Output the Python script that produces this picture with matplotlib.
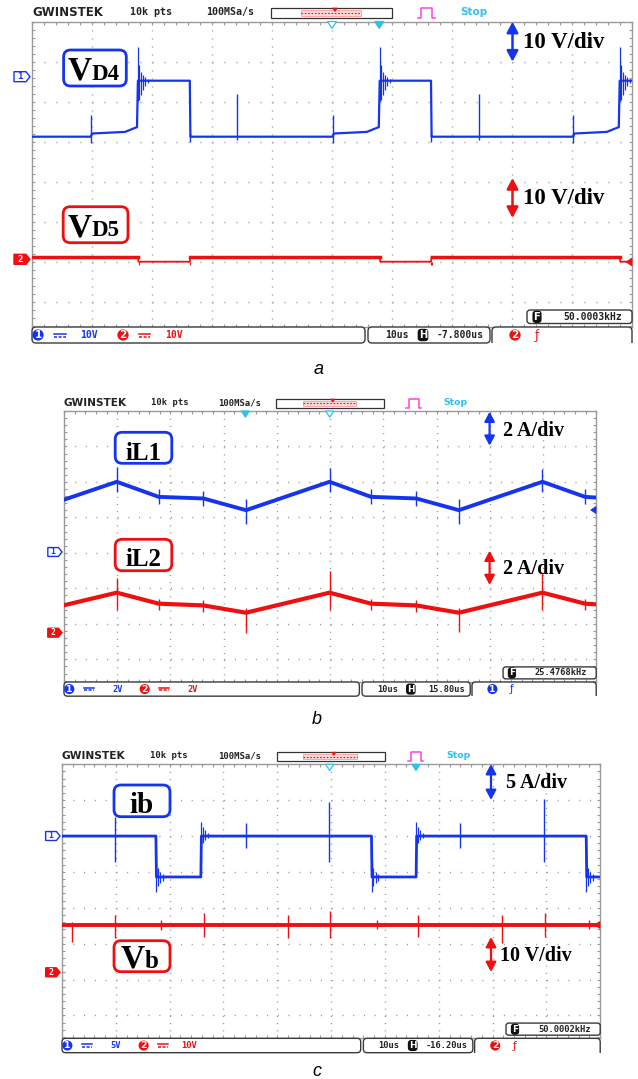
import matplotlib.pyplot as plt
from matplotlib.patches import FancyBboxPatch, Rectangle, FancyArrowPatch, Polygon
from matplotlib.lines import Line2D
from matplotlib.transforms import IdentityTransform

W, H = 638, 1079
PIX = IdentityTransform()

BLUE = "#1434f0"
RED = "#ee1010"
CYAN = "#30c0f0"
PINK = "#ff40e0"
GRAY = "#9a9a9a"
DARK = "#3a3a3a"
SERIF = "Liberation Serif"
MONO = "DejaVu Sans Mono"

# ---------- panel a : diode voltages (us, V) ----------
vd4_t = [0.0, 9.8, 10.0, 15.5, 17.5, 17.65, 26.3, 26.4, 50.1, 50.3, 55.8, 57.8, 57.95,
         66.5, 66.6, 90.2, 90.4, 95.8, 97.8, 97.95, 100.0]
vd4_v = [-15.0, -15.0, -14.2, -13.8, -12.6, -1.0, -1.0, -15.0, -15.0, -14.2, -13.8, -12.6, -1.0,
         -1.0, -15.0, -15.0, -14.2, -13.8, -12.6, -1.0, -1.0]
vd4_spk_t = [9.85, 34.2, 50.1, 74.5, 90.2]
vd4_spk_hi = [-9.6, -4.4, -9.6, -4.4, -9.6]
vd4_spk_lo = [-16.6, -15.8, -16.6, -15.8, -16.6]
vd4_rise = [17.65, 57.95, 97.95]
vd4_ring_dt = [0.0, 0.25, 0.5, 0.8, 1.2, 1.7]
vd4_ring_hi = [7.5, 3.0, 1.2, 0.5, 0.0, -0.5]
vd4_ring_lo = [-6.0, -5.8, -4.5, -3.2, -2.2, -1.6]
vd4_fall = [26.35, 66.55]
vd4_fall_lo = -16.3

vd5_t = [0.0, 17.65, 17.75, 26.3, 26.4, 57.95, 58.05, 66.5, 66.6, 97.95, 98.05, 100.0]
vd5_v = [0.6, 0.6, -0.6, -0.6, 0.6, 0.6, -0.6, -0.6, 0.6, 0.6, -0.6, -0.6]

# ---------- panel b : inductor currents (us, A) ----------
il_t = [0.0, 9.92, 17.8, 26.2, 34.2, 49.9, 57.7, 66.2, 74.2, 89.9, 97.9, 100.0]
il1_v = [2.96, 3.97, 3.12, 3.03, 2.37, 3.97, 3.12, 3.03, 2.37, 3.97, 3.12, 3.08]
il2_v = [1.57, 2.28, 1.66, 1.56, 1.15, 2.28, 1.66, 1.56, 1.15, 2.28, 1.66, 1.62]
il_spk_t = [9.92, 17.8, 26.2, 34.2, 49.9, 57.7, 66.2, 74.2, 89.9, 97.9]
il1_spk_hi = [4.8, 3.55, 3.45, 3.0, 4.75, 3.55, 3.45, 3.0, 4.7, 3.55]
il1_spk_lo = [3.4, 2.7, 2.6, 1.6, 3.4, 2.7, 2.6, 1.6, 3.4, 2.7]
il2_spk_hi = [3.1, 1.95, 1.85, 1.4, 3.5, 1.95, 1.85, 1.4, 3.4, 1.95]
il2_spk_lo = [1.3, 1.3, 1.2, 0.0, 1.3, 1.3, 1.2, 0.05, 1.3, 1.3]

# ---------- panel c : battery current / voltage ----------
ib_t = [0.0, 17.45, 17.55, 25.8, 25.9, 57.5, 57.6, 65.8, 65.9, 97.4, 97.5, 100.0]
ib_v = [0.0, 0.0, -5.7, -5.7, 0.0, 0.0, -5.7, -5.7, 0.0, 0.0, -5.7, -5.7]
ib_spk_t = [9.9, 34.1, 49.6, 74.0, 89.6]
ib_spk_hi = [2.7, 1.8, 4.8, 1.8, 5.1]
ib_spk_lo = [-3.6, -1.7, -3.6, -1.7, -3.6]
ib_fall = [17.5, 57.55, 97.45]
ib_fall_dt = [0.0, 0.3, 0.7, 1.2]
ib_fall_hi = [-3.6, -4.4, -5.0, -5.3]
ib_fall_lo = [-7.8, -7.0, -6.5, -6.2]
ib_rise = [25.85, 65.85]
ib_rise_dt = [0.0, 0.3, 0.7, 1.2]
ib_rise_hi = [2.0, 1.2, 0.8, 0.4]
ib_rise_lo = [-1.2, -0.9, -0.6, -0.3]

vb_t = [0.0, 100.0]
vb_v = [13.2, 13.2]
vb_spk_t = [1.9, 9.85, 18.4, 26.3, 42.0, 49.8, 58.5, 66.2, 81.7, 89.7, 98.0]
vb_spk_hi = [13.9, 16.0, 14.6, 16.4, 16.0, 16.9, 14.5, 16.0, 16.0, 16.4, 14.5]
vb_spk_lo = [8.5, 9.5, 11.8, 9.9, 9.5, 9.5, 12.0, 9.9, 8.1, 9.9, 11.9]

fig = plt.figure(figsize=(W / 100, H / 100), dpi=100)
fig.patch.set_facecolor("white")


def P(x, y):
    return x, H - y


def txt(x, y, s, **kw):
    kw.setdefault("ha", "left")
    kw.setdefault("va", "center")
    kw.setdefault("zorder", 8)
    return fig.text(x, H - y, s, transform=PIX, **kw)


def rbox(x0, y0, x1, y1, r=4, **kw):
    p = FancyBboxPatch((x0, H - y1), x1 - x0, y1 - y0,
                       boxstyle=f"round,pad=0,rounding_size={r}", transform=PIX, **kw)
    fig.add_artist(p)


def poly(pts, **kw):
    fig.add_artist(Polygon([P(*p) for p in pts], closed=True, transform=PIX, **kw))


def screen(x0, top, s):
    w = 600 * s
    hgt = 305.5 * s
    ax = fig.add_axes([x0 / W, 1 - (top + hgt) / H, w / W, hgt / H])
    ax.set_facecolor("white")
    ax.set_xlim(0, 100)
    ax.set_ylim(4 - 305.5 / 40, 4)
    ax.set_xticks(range(0, 101, 10))
    ax.set_xticks([i * 2 for i in range(51)], minor=True)
    ax.set_yticks(range(-3, 5))
    ax.set_yticks([j * 0.2 for j in range(-18, 21)], minor=True)
    ax.tick_params(which="both", direction="in", length=2.5 * s, width=0.8, color=GRAY,
                   top=True, right=True, labelbottom=False, labelleft=False)
    ax.xaxis.grid(True, color=GRAY, lw=1, ls=(0, (0.8, 5.76 * s - 0.8)))
    ax.yaxis.grid(True, color=GRAY, lw=1, ls=(0, (0.8, 8.64 * s - 0.8)))
    for sp in ax.spines.values():
        sp.set_color(GRAY)
        sp.set_linewidth(1)
    return ax


def trace(ax, t, v, scale, pos, color, lw):
    ax.plot(t, [pos + x / scale for x in v], color=color, lw=lw, zorder=3)


def spikes(ax, t, hi, lo, scale, pos, color, lw=1.0):
    ax.vlines(t, [pos + x / scale for x in lo], [pos + x / scale for x in hi],
              color=color, lw=lw, zorder=3)


def ringing(ax, edges, dt, hi, lo, scale, pos, color):
    for e in edges:
        spikes(ax, [e + d for d in dt], hi, lo, scale, pos, color, lw=0.9)


def header(x0, top, s):
    X = lambda o: x0 + o * s
    Y = lambda o: top + o * s
    y = Y(-9.5)
    txt(X(0), y, "GWINSTEK", fontsize=8.5 * s, fontweight="bold", color="#222222")
    txt(X(98.4), y, "10k pts", fontsize=7.2 * s, family=MONO, fontweight="bold", color="#222222")
    txt(X(174), y, "100MSa/s", fontsize=7.2 * s, family=MONO, fontweight="bold", color="#222222")
    fig.add_artist(Rectangle(P(X(239.4), Y(-3.2)), 121 * s, 10 * s, transform=PIX,
                             fc="white", ec="#333333", lw=0.9, zorder=6))
    fig.add_artist(Rectangle(P(X(269), Y(-5.5)), 60 * s, 6 * s, transform=PIX,
                             fc="#ffdada", ec="#ff9a9a", lw=0.6, zorder=7))
    fig.add_artist(Line2D([X(269), X(329)], [H - Y(-8.5)] * 2, transform=PIX, color=RED,
                          lw=0.8, ls=(0, (1.5, 1.5)), zorder=7))
    poly([(X(300.5), Y(-13.5)), (X(305.5), Y(-13.5)), (X(303), Y(-10))], fc=RED, ec=RED, lw=0.5, zorder=7)
    fig.add_artist(Line2D([X(386), X(389), X(389), X(400), X(400), X(403)],
                          [H - Y(o) for o in (-3.5, -3.5, -14, -14, -3.5, -3.5)],
                          transform=PIX, color=PINK, lw=1.1, zorder=7))
    txt(X(428), y, "Stop", color=CYAN, fontsize=7.5 * s, fontweight="bold")


def circ(x, y, label, color, s):
    txt(x, y, label, color="white", ha="center", fontsize=7.5 * s, fontweight="bold",
        bbox=dict(boxstyle="circle,pad=0.06", fc=color, ec="none"))


def icon(x, y, label, s):
    txt(x, y, label, color="white", ha="center", fontsize=7.2 * s, fontweight="bold",
        bbox=dict(boxstyle="round,pad=0.12,rounding_size=0.35", fc="#111111", ec="none"))


def dc(xa, xb, y, color, s):
    fig.add_artist(Line2D([xa, xb], [H - y + 1.5 * s] * 2, transform=PIX, color=color, lw=1.1, zorder=8))
    fig.add_artist(Line2D([xa, xb], [H - y - 1.5 * s] * 2, transform=PIX, color=color, lw=1.1,
                          ls=(0, (2, 1)), zorder=8))


def status(x0, top, s, ch1, ch2, tdiv, hpos, trig, trig_col, freq):
    X = lambda o: x0 + o * s
    Y = lambda o: top + o * s
    rbox(X(0), Y(305.5), X(333), Y(321.5), r=4 * s, fc="white", ec=DARK, lw=1, zorder=5)
    rbox(X(336), Y(305.5), X(458), Y(321.5), r=4 * s, fc="white", ec=DARK, lw=1, zorder=5)
    rbox(X(460), Y(305.5), X(600), Y(332), r=4 * s, fc="white", ec=DARK, lw=1, zorder=5)
    fig.add_artist(Rectangle(P(X(457), Y(338)), 146 * s, 16.2 * s, transform=PIX,
                             fc="white", ec="none", zorder=6))
    yc = Y(313.5)
    fs = 7 * s
    mono = dict(family=MONO, fontsize=fs, fontweight="bold")
    circ(X(6), yc, "1", BLUE, s)
    dc(X(22), X(34), yc, BLUE, s)
    txt(X(66), yc, ch1, ha="right", color=BLUE, **mono)
    circ(X(91), yc, "2", RED, s)
    dc(X(107), X(118), yc, RED, s)
    txt(X(151), yc, ch2, ha="right", color=RED, **mono)
    txt(X(353), yc, tdiv, color="#222222", **mono)
    icon(X(391), yc, "H", s)
    txt(X(452), yc, hpos, ha="right", color="#222222", **mono)
    circ(X(483), yc, trig, trig_col, s)
    txt(X(505), yc, "ƒ", color=trig_col, ha="center", fontsize=fs * 1.2)
    rbox(X(495), Y(288.5), X(600), Y(302), r=3 * s, fc="white", ec=DARK, lw=1, zorder=5)
    icon(X(505), Y(295.3), "F", s)
    txt(X(590), Y(295.3), freq, ha="right", color="#222222", **mono)


def pent(xr, y, s, color, label, filled):
    w, h = 16 * s, 10 * s
    poly([(xr - w, y - h / 2), (xr - 4 * s, y - h / 2), (xr, y), (xr - 4 * s, y + h / 2), (xr - w, y + h / 2)],
         fc=color if filled else "white", ec=color, lw=1, zorder=7)
    txt(xr - w / 2 - 2 * s, y, label, color="white" if filled else color, ha="center",
        fontsize=6.5 * s, fontweight="bold", family=MONO)


def tri_down(x, ytop, s, filled):
    poly([(x - 4.5 * s, ytop), (x + 4.5 * s, ytop), (x, ytop + 7 * s)],
         fc=CYAN if filled else "white", ec=CYAN, lw=0.9, zorder=7)


def tri_left(xr, y, s, color):
    poly([(xr, y - 4 * s), (xr, y + 4 * s), (xr - 6 * s, y)], fc=color, ec=color, lw=0.5, zorder=7)


def arrow(x, y0, y1, color, s):
    fig.add_artist(FancyArrowPatch(P(x, y0), P(x, y1), transform=PIX,
                                   arrowstyle="<|-|>,head_length=0.32,head_width=0.17",
                                   mutation_scale=20 * s, lw=1.8 * s, color=color,
                                   shrinkA=0, shrinkB=0, zorder=6))


def label_box(x0, y0, x1, y1, color):
    rbox(x0, y0, x1, y1, r=7, fc="white", ec=color, lw=2, zorder=5)


# ================= panel a =================
s = 1.0
ax = screen(32, 21.5, s)
header(32, 21.5, s)
status(32, 21.5, s, "10V", "10V", "10us", "-7.800us", "2", RED, "50.0003kHz")
# VD5: thin line through the dips, thick where the diode sits near 0 V
trace(ax, vd5_t, vd5_v, 10, -1.945, RED, 1.3)
trace(ax, vd5_t, [v if v > 0 else float("nan") for v in vd5_v], 10, -1.945, RED, 2.5)
spikes(ax, vd5_t[2:4] + vd5_t[7:9], [-0.6] * 4, [-1.3] * 4, 10, -1.945, RED, lw=0.8)
trace(ax, vd4_t, vd4_v, 10, 2.62, BLUE, 1.6)
spikes(ax, vd4_spk_t, vd4_spk_hi, vd4_spk_lo, 10, 2.62, BLUE)
ringing(ax, vd4_rise, vd4_ring_dt, vd4_ring_hi, vd4_ring_lo, 10, 2.62, BLUE)
spikes(ax, vd4_fall, [-14.0] * len(vd4_fall), [vd4_fall_lo] * len(vd4_fall), 10, 2.62, BLUE)
pent(30, 76.7, s, BLUE, "1", False)
pent(30, 259.3, s, RED, "2", True)
tri_down(332, 21.5, s, False)
tri_down(379.3, 21.5, s, True)
tri_left(632, 262, s, RED)
label_box(63.6, 50, 126.3, 86, BLUE)
txt(67.5, 80, "V", va="baseline", family=SERIF, fontweight="bold", fontsize=24)
txt(91.5, 80, "D4", va="baseline", family=SERIF, fontweight="bold", fontsize=16.5)
label_box(63.2, 206.7, 128, 242.7, RED)
txt(67.5, 236.5, "V", va="baseline", family=SERIF, fontweight="bold", fontsize=24)
txt(91.5, 236.5, "D5", va="baseline", family=SERIF, fontweight="bold", fontsize=16.5)
arrow(512.5, 21.7, 61.7, BLUE, s)
txt(523, 42.7, "10 V/div", family=SERIF, fontweight="bold", fontsize=16.5)
arrow(512.5, 178, 218, RED, s)
txt(523, 199, "10 V/div", family=SERIF, fontweight="bold", fontsize=16.5)
txt(319, 374, "a", ha="center", va="baseline", family="Liberation Sans", style="italic", fontsize=13)

# ================= panel b =================
s = 0.887
ax = screen(64, 411, s)
header(64, 411, s)
status(64, 411, s, "2V", "2V", "10us", "15.80us", "1", BLUE, "25.4768kHz")
trace(ax, il_t, il1_v, 2, 0.02, BLUE, 2.8)
spikes(ax, il_spk_t, il1_spk_hi, il1_spk_lo, 2, 0.02, BLUE)
trace(ax, il_t, il2_v, 2, -2.26, RED, 3.0)
spikes(ax, il_spk_t, il2_spk_hi, il2_spk_lo, 2, -2.26, RED)
pent(62, 552, s, BLUE, "1", False)
pent(62, 632.7, s, RED, "2", True)
tri_down(245.4, 411, s, True)
tri_down(329.7, 411, s, False)
tri_left(596, 510, s, BLUE)
label_box(115.2, 432.3, 171.8, 463.3, BLUE)
txt(143.5, 459.5, "iL1", ha="center", va="baseline", family=SERIF, fontweight="bold", fontsize=18)
label_box(115.2, 539.3, 171.8, 570.7, RED)
txt(143.5, 566.5, "iL2", ha="center", va="baseline", family=SERIF, fontweight="bold", fontsize=18)
arrow(489.6, 411.7, 445.7, BLUE, s)
txt(503, 431, "2 A/div", family=SERIF, fontweight="bold", fontsize=14.5)
arrow(489.6, 550.7, 585, RED, s)
txt(503, 569, "2 A/div", family=SERIF, fontweight="bold", fontsize=14.5)
txt(317, 724, "b", ha="center", va="baseline", family="Liberation Sans", style="italic", fontsize=13)

# ================= panel c =================
s = 0.897
ax = screen(62, 764.3, s)
header(62, 764.3, s)
status(62, 764.3, s, "5V", "10V", "10us", "-16.20us", "2", RED, "50.0002kHz")
trace(ax, vb_t, vb_v, 10, -1.79, RED, 2.8)
spikes(ax, vb_spk_t, vb_spk_hi, vb_spk_lo, 10, -1.79, RED)
trace(ax, ib_t, ib_v, 5, 2.0, BLUE, 2.0)
spikes(ax, ib_spk_t, ib_spk_hi, ib_spk_lo, 5, 2.0, BLUE)
ringing(ax, ib_fall, ib_fall_dt, ib_fall_hi, ib_fall_lo, 5, 2.0, BLUE)
ringing(ax, ib_rise, ib_rise_dt, ib_rise_hi, ib_rise_lo, 5, 2.0, BLUE)
pent(60, 836, s, BLUE, "1", False)
pent(60, 972.3, s, RED, "2", True)
tri_down(329.7, 764.3, s, False)
tri_down(416, 764.3, s, True)
tri_left(600, 925, s, RED)
label_box(114, 785, 170, 816.7, BLUE)
txt(142, 813, "ib", ha="center", va="baseline", family=SERIF, fontweight="bold", fontsize=21)
label_box(114, 940.7, 170, 971.7, RED)
txt(121, 968, "V", va="baseline", family=SERIF, fontweight="bold", fontsize=24)
txt(145, 968, "b", va="baseline", family=SERIF, fontweight="bold", fontsize=18)
arrow(491, 764, 800, BLUE, s)
txt(506, 783, "5 A/div", family=SERIF, fontweight="bold", fontsize=14.5)
arrow(491, 937, 972, RED, s)
txt(500, 956, "10 V/div", family=SERIF, fontweight="bold", fontsize=14.5)
txt(317, 1076, "c", ha="center", va="baseline", family="Liberation Sans", style="italic", fontsize=13)

fig.savefig("out.png", dpi=100)
